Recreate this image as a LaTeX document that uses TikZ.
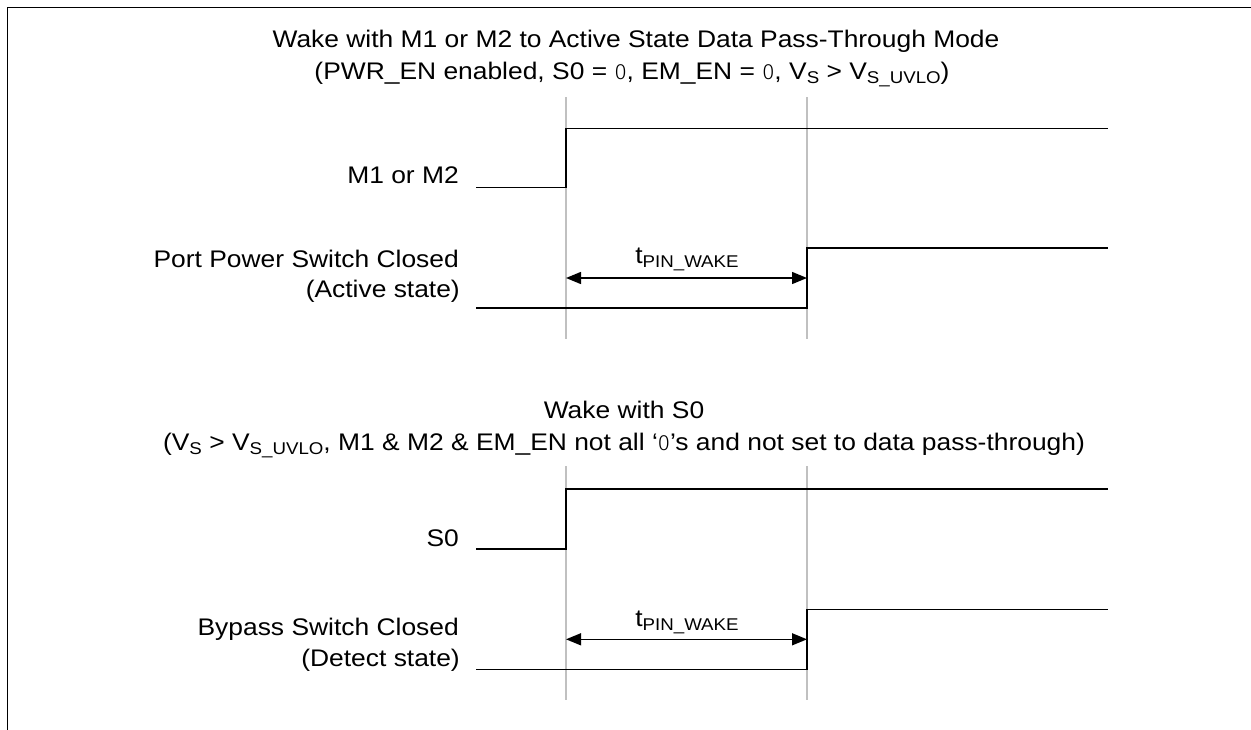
\documentclass[tikz,border=0pt]{standalone}
\usepackage{fontspec}
\setmainfont{Liberation Sans}[FakeStretch=1.1]
\newfontfamily\zerofont{Fira Sans Light}
\usetikzlibrary{arrows.meta}
\definecolor{guide}{RGB}{192,192,192}
\newcommand\lowsub[1]{\raisebox{-4pt}{\fontsize{17}{17}\selectfont #1}}
\newcommand\zro{{\zerofont\fontsize{22}{22}\selectfont 0}}
\begin{document}
\begin{tikzpicture}[x=1pt,y=-1pt,
  txt/.style={font=\fontsize{24}{29}\selectfont, inner sep=0pt, anchor=base},
  lbl/.style={txt, anchor=base east},
  wave/.style={draw=black, line width=1.4pt},
  guideline/.style={draw=guide, line width=1.6pt},
  frame/.style={draw=black, line width=1.8pt},
  dimarrow/.style={draw=black, line width=1.4pt,
     {Triangle[length=15pt,width=12pt]}-{Triangle[length=15pt,width=12pt]}}]
\useasboundingbox (0,0) rectangle (1251,729);
% frame
\coordinate (fbl) at (7.5,735);
\coordinate (ftl) at (7.5,7.5);
\coordinate (ftr) at (1258,7.5);
\draw[frame] (fbl) -- (ftl) -- (ftr);

% ---------- section 1 ----------
\node[txt] (t1a) at (636,47) {Wake with M1 or M2 to Active State Data Pass-Through Mode};
\node[txt] (t1b) at (632,79) {(PWR\_EN enabled, S0 = \zro, EM\_EN = \zro, V\lowsub{S} > V\lowsub{S\_UVLO})};

\coordinate (g1at) at (566,97);  \coordinate (g1ab) at (566,339);
\coordinate (g1bt) at (807,97);  \coordinate (g1bb) at (807,339);
\draw[guideline] (g1at) -- (g1ab);
\draw[guideline] (g1bt) -- (g1bb);

\node[lbl] (m12) at (459,183) {M1 or M2};
\coordinate (m0) at (476,187.7);
\coordinate (m1) at (566,187.7);
\coordinate (m2) at (566,128.3);
\coordinate (m3) at (1108,128.3);
\draw[wave] (m0) -- (m1) -- (m2) -- (m3);

\node[lbl] (pps) at (459,267) {Port Power Switch Closed};
\node[lbl] (act) at (460,297) {(Active state)};
\coordinate (p0) at (476,308);
\coordinate (p1) at (807,308);
\coordinate (p2) at (807,248);
\coordinate (p3) at (1108,248);
\draw[wave] (p0) -- (p1) -- (p2) -- (p3);

\coordinate (a1l) at (566,278);
\coordinate (a1r) at (807,278);
\draw[dimarrow] (a1l) -- (a1r);
\node[txt] (tw1) at (687,263) {t\lowsub{PIN\_WAKE}};

% ---------- section 2 ----------
\node[txt] (t2a) at (624,418) {Wake with S0};
\node[txt] (t2b) at (624,450) {(V\lowsub{S} > V\lowsub{S\_UVLO}, M1 \& M2 \& EM\_EN not all ‘\zro’s and not set to data pass-through)};

\coordinate (g2at) at (566,466);  \coordinate (g2ab) at (566,700);
\coordinate (g2bt) at (807,466);  \coordinate (g2bb) at (807,700);
\draw[guideline] (g2at) -- (g2ab);
\draw[guideline] (g2bt) -- (g2bb);

\node[lbl] (s0l) at (459,546) {S0};
\coordinate (s0) at (476,549);
\coordinate (s1) at (566,549);
\coordinate (s2) at (566,489);
\coordinate (s3) at (1108,489);
\draw[wave] (s0) -- (s1) -- (s2) -- (s3);

\node[lbl] (bps) at (459,635) {Bypass Switch Closed};
\node[lbl] (det) at (460,666) {(Detect state)};
\coordinate (b0) at (476,669.3);
\coordinate (b1) at (807,669.3);
\coordinate (b2) at (807,609.3);
\coordinate (b3) at (1108,609.3);
\draw[wave] (b0) -- (b1) -- (b2) -- (b3);

\coordinate (a2l) at (566,639.3);
\coordinate (a2r) at (807,639.3);
\draw[dimarrow] (a2l) -- (a2r);
\node[txt] (tw2) at (687,626) {t\lowsub{PIN\_WAKE}};
\end{tikzpicture}
\end{document}
